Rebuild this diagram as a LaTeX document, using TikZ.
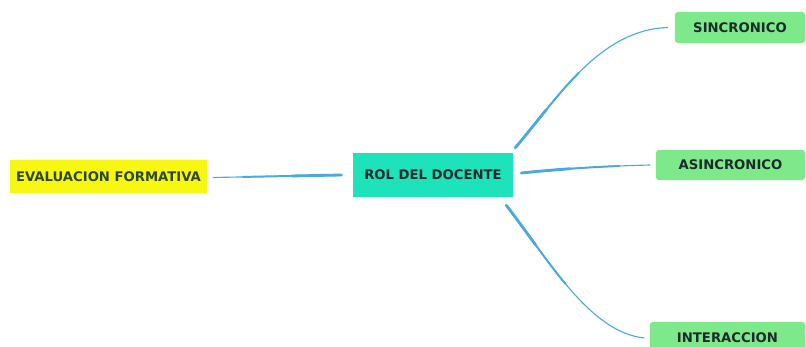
\documentclass[tikz,border=0pt]{standalone}
\usepackage{fontspec}
\setmainfont{DejaVu Sans}
\definecolor{rolcolor}{HTML}{1DE3BA}
\definecolor{modcolor}{HTML}{7EE98A}
\definecolor{evalcolor}{HTML}{F7F712}
\definecolor{branchcolor}{HTML}{4BA9E2}
\definecolor{labelcolor}{HTML}{1C2B2B}
\definecolor{evaltext}{HTML}{2E4A1C}
\begin{document}
\begin{tikzpicture}[x=0.025cm, y=-0.025cm,
    topic/.style={rectangle, inner sep=0pt, font=\fontsize{9.4}{11}\selectfont\bfseries, text=labelcolor},
    branch/.style={draw=branchcolor, line width=0.8pt, line cap=round,
        postaction={draw=branchcolor, line width=1.4pt, dash pattern=on 70pt off 1000pt},
        postaction={draw=branchcolor, line width=2pt, dash pattern=on 35pt off 1000pt}}]
        \useasboundingbox (0,0) rectangle (806,347);

        % Nodes
        \node[topic, fill=evalcolor, text=evaltext, minimum width=4.925cm, minimum height=0.825cm] at (108.5, 176.5) (eval) {EVALUACION FORMATIVA};
        \node[topic, fill=rolcolor, minimum width=4cm, minimum height=1.1cm] at (433, 175) (rol) {ROL DEL DOCENTE};
        \node[topic, fill=modcolor, rounded corners=2pt, minimum width=3.25cm, minimum height=0.775cm] at (740, 27.5) (sinc) {SINCRONICO};
        \node[topic, fill=modcolor, rounded corners=2pt, minimum width=3.725cm, minimum height=0.75cm] at (730.5, 165) (asinc) {ASINCRONICO};
        \node[topic, fill=modcolor, rounded corners=2pt, minimum width=3.875cm, minimum height=0.8cm] at (727.5, 338) (inter) {INTERACCION};


        \draw[branch]  ([xshift=-8pt]rol.west) -- ([shift={(6,1)}]eval.east);

        \draw[branch]  ([shift={(2,-5)}]rol.north east) .. controls (560, 95) and (600, 30) .. ([xshift=-5pt]sinc.west);
        \draw[branch]  ([shift={(8,-2)}]rol.east) .. controls (570, 168) and (610, 166) .. ([xshift=-4pt]asinc.west);
        \draw[branch]  ([shift={(-7,8)}]rol.south east) .. controls (550, 262) and (590, 332) .. ([xshift=-4pt]inter.west);
    \end{tikzpicture}
\end{document}
